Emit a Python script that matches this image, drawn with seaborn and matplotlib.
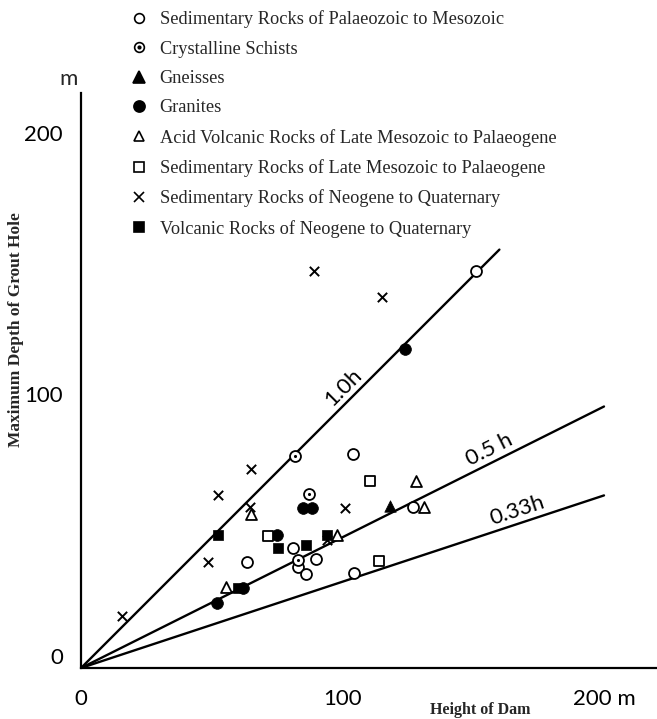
import matplotlib
matplotlib.use("Agg")
import matplotlib.pyplot as plt
from matplotlib.lines import Line2D
from matplotlib.legend_handler import HandlerTuple
import numpy as np
import seaborn as sns

# Height of dam (x, m) vs maximum depth of grout hole (y, m), by foundation rock
paleo_sed_x = [151, 104, 63.5, 81, 90, 83, 86, 104.5, 127]
paleo_sed_y = [152, 82, 40.5, 46, 41.5, 38.5, 36, 36.5, 61.5]
schist_x = [82, 87, 83]
schist_y = [81, 66.5, 41.3]
gneiss_x = [118]
gneiss_y = [62]
granite_x = [124, 85, 88.5, 75, 62, 52]
granite_y = [122, 61, 61, 51, 30.5, 25]
acid_volc_x = [65, 98, 128, 131, 55.5]
acid_volc_y = [59, 51, 71.5, 61.5, 31]
late_sed_x = [110.5, 71.5, 114]
late_sed_y = [71.5, 50.5, 41]
neo_sed_x = [15.5, 48.5, 52.5, 65, 64.5, 101, 94, 89, 115]
neo_sed_y = [20, 40.5, 66, 76, 61.5, 61, 49, 152, 142]
neo_volc_x = [52.5, 75.5, 86, 94, 60]
neo_volc_y = [51, 46, 47, 51, 30.5]

legend_labels = [
    "Sedimentary Rocks of Palaeozoic to Mesozoic",
    "Crystalline Schists",
    "Gneisses",
    "Granites",
    "Acid Volcanic Rocks of Late Mesozoic to Palaeogene",
    "Sedimentary Rocks of Late Mesozoic to Palaeogene",
    "Sedimentary Rocks of Neogene to Quaternary",
    "Volcanic Rocks of Neogene to Quaternary",
]

# Reference lines: depth = ratio * height
ratios = [1.0, 0.5, 0.33]
ratio_labels = ["1.0h", "0.5 h", "0.33h"]
ratio_ends = [160, 200, 200]
ratio_label_at = [103.7, 158.3, 168.5]

x_ticks = [0, 100, 200]
x_tick_labels = ["0", "100", "200 m"]
y_ticks = [0, 100, 200]
y_tick_labels = ["0", "100", "200"]

sns.set_style("white")
plt.rcParams["font.family"] = ["DejaVu Sans"]

SANS = ["Lato", "DejaVu Sans"]
SERIF = ["Liberation Serif", "DejaVu Serif"]

W, H = 657, 719
fig = plt.figure(figsize=(W / 100, H / 100), dpi=100)
x0, y0, scale = 81, 668, 2.615
span = 220
ax = fig.add_axes([x0 / W, 1 - y0 / H, span * scale / W, span * scale / H])
ax.set_xlim(0, span)
ax.set_ylim(0, span)

ink = "black"
lw_m = 1.3

for r, end in zip(ratios, ratio_ends):
    sns.lineplot(x=[0, end], y=[0, r * end], color=ink, lw=1.7, ax=ax, zorder=2)

def pts(x, y, marker, s, filled):
    if filled:
        sns.scatterplot(x=x, y=y, marker=marker, s=s, color=ink, edgecolor=ink,
                        linewidth=0.5, ax=ax, zorder=3)
    else:
        sns.scatterplot(x=x, y=y, marker=marker, s=s, facecolor="white",
                        edgecolor=ink, linewidth=lw_m, ax=ax, zorder=3)

pts(paleo_sed_x, paleo_sed_y, "o", 62, False)
pts(schist_x, schist_y, "o", 62, False)
sns.scatterplot(x=schist_x, y=schist_y, marker="o", s=5, color=ink,
                edgecolor=ink, linewidth=0, ax=ax, zorder=4)
pts(gneiss_x, gneiss_y, "^", 68, True)
pts(granite_x, granite_y, "o", 72, True)
pts(acid_volc_x, acid_volc_y, "^", 62, False)
pts(late_sed_x, late_sed_y, "s", 45, False)
sns.scatterplot(x=neo_sed_x, y=neo_sed_y, marker="x", s=45, color=ink,
                linewidth=1.4, ax=ax, zorder=3)
pts(neo_volc_x, neo_volc_y, "s", 45, True)

# Labels along the reference lines
for r, lab, xa in zip(ratios, ratio_labels, ratio_label_at):
    ang = np.degrees(np.arctan(r))
    nx, ny = -np.sin(np.radians(ang)), np.cos(np.radians(ang))
    d = 5
    ax.annotate(lab, xy=(xa, r * xa), xytext=(nx * d, ny * d),
                textcoords="offset points", rotation=ang, rotation_mode="anchor",
                ha="center", va="baseline", fontsize=16, family=SANS, color=ink)

# Axes styling
for side in ["top", "right"]:
    ax.spines[side].set_visible(False)
for side in ["left", "bottom"]:
    ax.spines[side].set_linewidth(1.6)
    ax.spines[side].set_color(ink)

ax.set_xticks(x_ticks)
ax.set_xticklabels(x_tick_labels)
ax.set_yticks(y_ticks)
ax.set_yticklabels(y_tick_labels)
ax.set_xticks(np.arange(20, 220, 20), minor=True)
ax.set_yticks(np.arange(20, 220, 20), minor=True)
ax.tick_params(axis="both", which="major", direction="out", length=13, width=1.4,
               color=ink, labelsize=16, labelcolor=ink)
ax.tick_params(axis="both", which="minor", direction="out", length=8.5, width=1.4,
               color=ink)
ax.tick_params(axis="x", which="major", pad=2)
ax.tick_params(axis="y", which="major", pad=0)
for t in ax.get_xticklabels() + ax.get_yticklabels():
    t.set_family(SANS)
for t in ax.get_yticklabels():
    t.set_verticalalignment("bottom")

ax.text(-0.022, 1.006, "m", transform=ax.transAxes, ha="center", va="bottom",
        fontsize=16, family=SANS)

fig.text(16 / W, 1 - 330 / H, "Maximum Depth of Grout Hole", rotation=90,
         ha="center", va="center", fontsize=12.5, fontweight="bold", family=SERIF)
fig.text(480 / W, 1 - 710 / H, "Height of Dam", ha="center", va="center",
         fontsize=11.5, fontweight="bold", family=SERIF)

# Legend
def mk(marker, filled, ms):
    return Line2D([], [], ls="none", marker=marker, ms=ms,
                  markerfacecolor=ink if filled else "white",
                  markeredgecolor=ink, markeredgewidth=1.2)

schist_handle = (mk("o", False, 7), Line2D([], [], ls="none", marker="o", ms=2,
                                           color=ink))
handles = [
    mk("o", False, 7),
    schist_handle,
    mk("^", True, 8),
    mk("o", True, 8),
    mk("^", False, 7),
    mk("s", False, 6.5),
    Line2D([], [], ls="none", marker="x", ms=6.5, color=ink, markeredgewidth=1.2),
    mk("s", True, 6.5),
]
leg = fig.legend(handles, legend_labels, loc="upper left",
                 bbox_to_anchor=(121 / W, 1 - 1 / H), frameon=False,
                 handlelength=1.0, handletextpad=0.6, labelspacing=0.68,
                 borderpad=0, prop={"family": "Liberation Serif", "size": 13.2},
                 handler_map={tuple: HandlerTuple(ndivide=1)})

fig.savefig("out.png", dpi=100)
